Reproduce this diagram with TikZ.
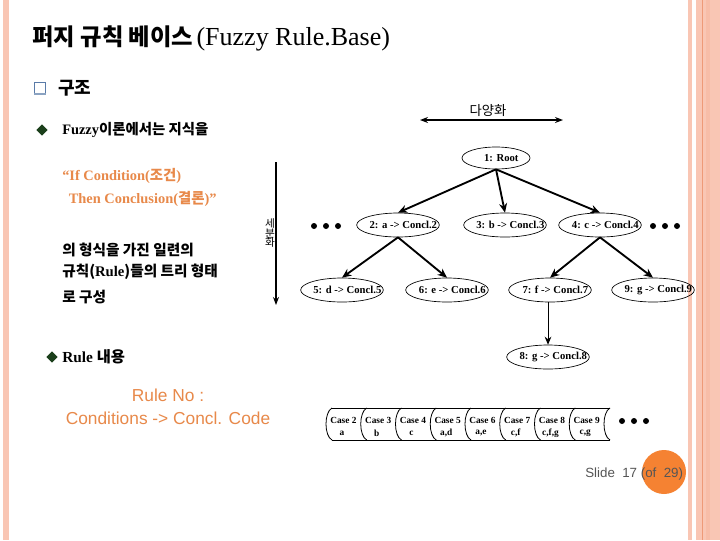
\documentclass[tikz,border=0pt]{standalone}
\usepackage{fontspec}
\setmainfont{Liberation Serif}
\setsansfont{Liberation Sans}
\newfontfamily\kr{Noto Sans CJK KR}
\usetikzlibrary{shapes.geometric,arrows.meta}
\definecolor{pinkbar}{HTML}{F9C6B4}
\definecolor{pinkline}{HTML}{EE9A78}
\definecolor{orangetxt}{HTML}{E8894A}
\definecolor{orangedot}{HTML}{F58232}
\definecolor{bulletgreen}{HTML}{1B3F1B}
\definecolor{boxblue}{HTML}{5A7BA8}
\definecolor{slidegray}{HTML}{555555}
\newcommand{\fixlab}[1]{\makebox[0pt]{\kern8pt #1}}
\tikzset{
  tnode/.style={ellipse, draw, line width=0.5pt, inner sep=0pt, minimum width=62pt, minimum height=18pt,
    font=\bfseries\fontsize{8}{9}\selectfont},
  rootnode/.style={tnode, minimum width=51pt, minimum height=16.5pt},
  tarrow/.style={line width=1.4pt, -{Stealth[length=7pt,width=6pt]}},
  thinarrow/.style={line width=0.6pt, -{Stealth[length=6pt,width=5pt]}},
  dblarrow/.style={line width=1.4pt, {Stealth[length=6pt,width=4.5pt]}-{Stealth[length=6pt,width=4.5pt]}},
  bullet/.style={diamond, fill=bulletgreen, inner sep=0pt, minimum width=8.5pt, minimum height=8.5pt},
  bodytxt/.style={anchor=west, inner sep=0pt, font=\bfseries\fontsize{10.8}{12}\selectfont},
  krbody/.style={bodytxt, font=\kr\bfseries\fontsize{11}{13}\selectfont},
  orangetext/.style={anchor=west, inner sep=0pt, text=orangetxt, font=\bfseries\fontsize{10.8}{12}\selectfont},
  casetxt/.style={inner sep=0pt, font=\bfseries\fontsize{7}{8}\selectfont},
  dotmark/.style={circle, fill=black, inner sep=0pt, minimum size=4.5pt},
}
\begin{document}
\begin{tikzpicture}[x=0.75pt, y=-0.75pt]
\useasboundingbox (0,0) rectangle (720,540);
\fill[white] (0,0) rectangle (720,540);
% side bars
\fill[pinkbar] (3,0) rectangle (9,540);
\fill[pinkbar] (688,0) rectangle (692,540);
\fill[pinkbar] (696,0) rectangle (720,540);
\fill[pinkbar!80!pinkline] (706,0) rectangle (710,540);
\draw[pinkline, line width=0.6pt] (702.5,0) -- (702.5,540);

% title
\node[anchor=west, inner sep=0pt] (title) at (32,38)
  {{\kr\bfseries\fontsize{17.5}{20}\selectfont 퍼지~규칙~베이스}~{\fontsize{19.5}{22}\selectfont (Fuzzy Rule.Base)}};

% section heading
\node[draw=boxblue, line width=0.8pt, fill=white, minimum width=8pt, minimum height=8pt, inner sep=0pt] (chk) at (40,88) {};
\draw[boxblue!70, line width=1.2pt] (chk.south west) -- (chk.south east);
\node[anchor=west, inner sep=0pt, font=\kr\bfseries\fontsize{13.5}{16}\selectfont] (sec) at (58,88) {구조};

% bullets and left text
\node[bullet] (b1) at (42,130) {};
\node[bodytxt] (t1) at (62,130) {Fuzzy{\kr 이론에서는 지식을}};
\node[orangetext] (o1) at (62,176) {“If Condition({\kr 조건})};
\node[orangetext] (o2) at (65,199) {~Then Conclusion({\kr 결론})”};
\node[krbody] (t2) at (62,250) {의 형식을 가진 일련의};
\node[krbody] (t3) at (62,272) {규칙({\rmfamily Rule})들의 트리 형태};
\node[krbody] (t4) at (62,297) {로 구성};
\node[bullet] (b2) at (52,357) {};
\node[bodytxt, font=\bfseries\fontsize{11.5}{13}\selectfont] (t5) at (62,357) {Rule {\kr 내용}};
\node[inner sep=0pt, text=orangetxt, font=\sffamily\fontsize{13}{15}\selectfont] (r1) at (168,395) {Rule No :};
\node[inner sep=0pt, text=orangetxt, font=\sffamily\fontsize{13}{15}\selectfont] (r2) at (168,418) {Conditions -> Concl. Code};

% vertical arrow (subdivision)
\coordinate (vtop) at (276,162);
\coordinate (vbot) at (276,305);
\draw[line width=1.4pt, -{Stealth[length=6pt,width=4.5pt]}] (vtop) -- (vbot);
\node[inner sep=0pt, align=center, font=\kr\fontsize{8}{8}\selectfont] (vlab) at (270,233) {세\\[-1pt]분\\[-1pt]화};

% horizontal arrow (diversification)
\coordinate (hl) at (420,120);
\coordinate (hr) at (563,120);
\draw[dblarrow] (hl) -- (hr);
\node[inner sep=0pt, font=\kr\fontsize{10}{12}\selectfont] (hlab) at (488,111) {다양화};

% tree
\node[rootnode] (n1) at (496,158) {\fixlab{1: Root}};
\node[tnode] (n2) at (398,225) {\fixlab{2: a -> Concl.2}};
\node[tnode] (n3) at (505,225) {\fixlab{3: b -> Concl.3}};
\node[tnode] (n4) at (600,225) {\fixlab{4: c -> Concl.4}};
\node[tnode] (n5) at (342,290) {\fixlab{5: d -> Concl.5}};
\node[tnode] (n6) at (447,290) {\fixlab{6: e -> Concl.6}};
\node[tnode] (n7) at (550,290) {\fixlab{7: f -> Concl.7}};
\node[tnode] (n9) at (653,290) {\fixlab{9: g -> Concl.9}};
\node[tnode] (n8) at (548,357) {\fixlab{8: g -> Concl.8}};
\foreach \k/\x in {1/314, 2/326, 3/338} \node[dotmark] (dl\k) at (\x,226) {};
\foreach \k/\x in {1/653, 2/665, 3/677} \node[dotmark] (dr\k) at (\x,226) {};

\draw[tarrow] (n1.south) -- (n2.north);
\draw[tarrow] (n1.south) -- (n3.north);
\draw[tarrow] (n1.south) -- (n4.north);
\draw[tarrow] (n2.south) -- (n5.north);
\draw[tarrow] (n2.south) -- (n6.north);
\draw[tarrow] (n4.south) -- (n7.north);
\draw[tarrow] (n4.south) -- (n9.north);
\draw[thinarrow] (n7.south -| n8.north) -- (n8.north);

% case cylinders
\foreach \i/\n/\c in {0/2/a, 1/3/b, 2/4/c, 3/5/{a,d}, 4/6/{a,e}, 5/7/{c,f}, 6/8/{c,f,g}, 7/9/{c,g}} {
  \node[casetxt, anchor=west] (cA\i) at (325+34.75*\i+5, 420) {Case \n};
  \node[casetxt] (cB\i) at (325+34.75*\i+17, 433) {\c};
}
\foreach \i in {0,...,8} {
  \draw[line width=0.6pt] (325+34.75*\i+7,408) .. controls (325+34.75*\i-1,412) and (325+34.75*\i-1,436) .. (325+34.75*\i+7,440);
}
\draw[line width=0.6pt] (332,408) -- (325+34.75*8+7,408);
\draw[line width=0.6pt] (332,440) -- (325+34.75*8+7,440);
\foreach \k/\x in {1/622, 2/634, 3/646} \node[dotmark] (dc\k) at (\x,421) {};

% slide number
\fill[orangedot] (664,472) circle (22);
\node[anchor=west, inner sep=0pt, text=slidegray, font=\sffamily\fontsize{10}{12}\selectfont] (sn) at (585,474) {Slide~~17~(of~~29)};
\end{tikzpicture}
\end{document}
